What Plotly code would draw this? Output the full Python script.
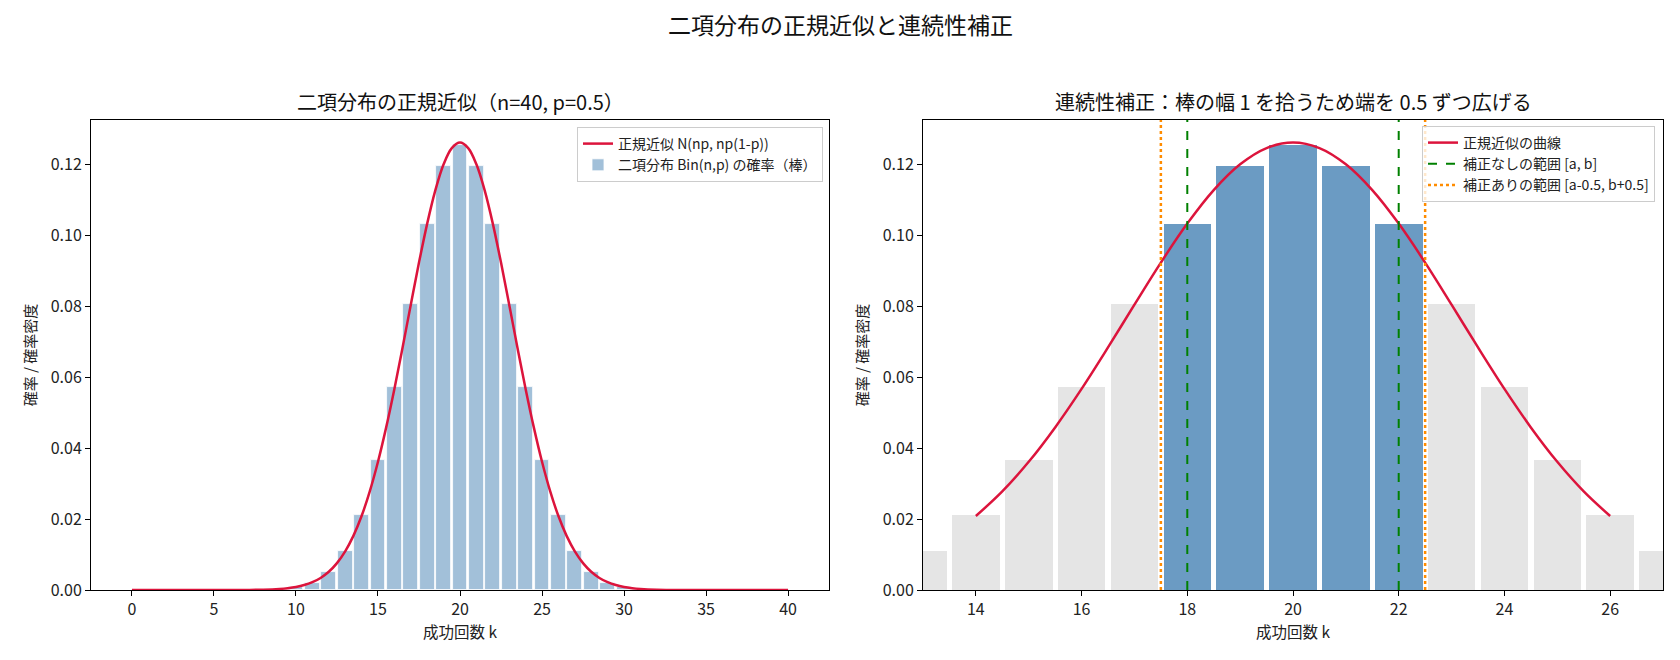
import plotly.graph_objects as go

# ---- data ----
k_values = list(range(0, 41))
pmf_values = [0.0, 0.0, 0.0, 0.0, 0.0, 0.0, 0.0, 0.00002, 0.00007, 0.00025,
              0.00077, 0.0021, 0.0051, 0.0109, 0.0211, 0.0366, 0.0572, 0.0807,
              0.1031, 0.1194, 0.1254, 0.1194, 0.1031, 0.0807, 0.0572, 0.0366,
              0.0211, 0.0109, 0.0051, 0.0021, 0.00077, 0.00025, 0.00007, 0.00002,
              0.0, 0.0, 0.0, 0.0, 0.0, 0.0, 0.0]

curve_x = [0, 2, 4, 6, 7, 8, 9, 9.5, 10, 10.5, 11, 11.5, 12, 12.5, 13, 13.5,
           14, 14.5, 15, 15.5, 16, 16.5, 17, 17.5, 18, 18.5, 19, 19.5, 20,
           20.5, 21, 21.5, 22, 22.5, 23, 23.5, 24, 24.5, 25, 25.5, 26, 26.5,
           27, 27.5, 28, 28.5, 29, 29.5, 30, 30.5, 31, 32, 33, 34, 36, 38, 40]
curve_y = [0.0, 0.0, 0.0, 0.000007, 0.000027, 0.000094, 0.0003, 0.00051,
           0.00085, 0.00139, 0.0022, 0.0034, 0.00514, 0.00758, 0.01089,
           0.01526, 0.02085, 0.0278, 0.03614, 0.04584, 0.05669, 0.06838,
           0.08044, 0.0923, 0.10329, 0.11274, 0.12001, 0.12459, 0.12616,
           0.12459, 0.12001, 0.11274, 0.10329, 0.0923, 0.08044, 0.06838,
           0.05669, 0.04584, 0.03614, 0.0278, 0.02085, 0.01526, 0.01089,
           0.00758, 0.00514, 0.0034, 0.0022, 0.00139, 0.00085, 0.00051,
           0.0003, 0.000094, 0.000027, 0.000007, 0.0, 0.0, 0.0]

range_a, range_b = 18, 22
corr_a, corr_b = 17.5, 22.5
curve_right_min, curve_right_max = 14, 26

left_xticks = [0, 5, 10, 15, 20, 25, 30, 35, 40]
right_xticks = [14, 16, 18, 20, 22, 24, 26]
yticks = [0.0, 0.02, 0.04, 0.06, 0.08, 0.10, 0.12]

Y_TOP = 0.1325
FONT = "Noto Sans CJK JP"
CRIMSON = "#dc143c"
LIGHT_BLUE = "rgba(70,130,180,0.5)"
MID_BLUE = "rgba(70,130,180,0.8)"
GRAY = "rgba(211,211,211,0.6)"

fig = go.Figure()

# ---- left panel ----
fig.add_trace(go.Bar(
    x=k_values, y=pmf_values, width=0.9,
    marker=dict(color=LIGHT_BLUE, line=dict(color="white", width=0.8)),
    name="二項分布 Bin(n,p) の確率（棒）", legend="legend", legendrank=2,
    xaxis="x", yaxis="y"))
fig.add_trace(go.Scatter(
    x=curve_x, y=curve_y, mode="lines", line=dict(color=CRIMSON, width=2.5, shape="spline"),
    name="正規近似 N(np, np(1-p))", legend="legend", legendrank=1,
    xaxis="x", yaxis="y"))

# ---- right panel ----
bar_colors = [MID_BLUE if range_a <= k <= range_b else GRAY for k in k_values]
fig.add_trace(go.Bar(
    x=k_values, y=pmf_values, width=0.9,
    marker=dict(color=bar_colors, line=dict(width=0)),
    showlegend=False, xaxis="x2", yaxis="y2"))
rx = [x for x in curve_x if curve_right_min <= x <= curve_right_max]
ry = [y for x, y in zip(curve_x, curve_y) if curve_right_min <= x <= curve_right_max]
fig.add_trace(go.Scatter(
    x=rx, y=ry, mode="lines", line=dict(color=CRIMSON, width=2.5, shape="spline"),
    name="正規近似の曲線", legend="legend2", legendrank=1,
    xaxis="x2", yaxis="y2"))
for i, v in enumerate([range_a, range_b]):
    fig.add_trace(go.Scatter(
        x=[v, v], y=[0, Y_TOP], mode="lines",
        line=dict(color="green", width=2, dash="dash"),
        name="補正なしの範囲 [a, b]", legend="legend2", legendrank=2,
        legendgroup="nocorr", showlegend=(i == 0), xaxis="x2", yaxis="y2"))
for i, v in enumerate([corr_a, corr_b]):
    fig.add_trace(go.Scatter(
        x=[v, v], y=[0, Y_TOP], mode="lines",
        line=dict(color="#ff8c00", width=2.5, dash="dot"),
        name="補正ありの範囲 [a-0.5, b+0.5]", legend="legend2", legendrank=3,
        legendgroup="corr", showlegend=(i == 0), xaxis="x2", yaxis="y2"))

axis_common = dict(showline=True, linecolor="black", linewidth=1, mirror=True,
                   ticks="outside", ticklen=5, tickcolor="black", showgrid=False,
                   zeroline=False, automargin=False, tickfont=dict(size=16, color="#222"))
y_common = dict(axis_common, range=[0, Y_TOP], tickvals=yticks, tickformat=".2f",
                title=dict(text="確率 / 確率密度", font=dict(size=15, color="#222"), standoff=10))
x_title = dict(text="成功回数 k", font=dict(size=15.5, color="#222"), standoff=4)

fig.update_layout(
    width=1680, height=660, margin=dict(l=0, r=0, t=0, b=0),
    plot_bgcolor="white", paper_bgcolor="white",
    font=dict(family=FONT, color="#222"),
    barmode="overlay", bargap=0,
    xaxis=dict(axis_common, domain=[91/1680, 829/1680], range=[-2.495, 42.495],
               tickvals=left_xticks, title=x_title, anchor="y"),
    yaxis=dict(y_common, domain=[1-590/660, 1-120/660], anchor="x"),
    xaxis2=dict(axis_common, domain=[923/1680, 1663/1680], range=[13, 27],
                tickvals=right_xticks, title=x_title, anchor="y2"),
    yaxis2=dict(y_common, domain=[1-590/660, 1-120/660], anchor="x2"),
    legend=dict(x=823/1680, y=1-127/660, xanchor="right", yanchor="top",
                bgcolor="white", bordercolor="#cccccc", borderwidth=1,
                font=dict(size=14, color="#222")),
    legend2=dict(x=1655/1680, y=1-126/660, xanchor="right", yanchor="top",
                 bgcolor="rgba(255,255,255,0.8)", bordercolor="#cccccc", borderwidth=1,
                 tracegroupgap=0, font=dict(size=14, color="#222")),
    annotations=[
        dict(text="二項分布の正規近似と連続性補正", x=0.5, y=1-24/660, xref="paper", yref="paper",
             showarrow=False, xanchor="center", yanchor="middle", font=dict(size=23, color="#111")),
        dict(text="二項分布の正規近似（n=40, p=0.5）", x=(91+829)/2/1680, y=1-101/660,
             xref="paper", yref="paper", showarrow=False, xanchor="center", yanchor="middle",
             font=dict(size=20, color="#111")),
        dict(text="連続性補正：棒の幅 1 を拾うため端を 0.5 ずつ広げる", x=(923+1663)/2/1680, y=1-101/660,
             xref="paper", yref="paper", showarrow=False, xanchor="center", yanchor="middle",
             font=dict(size=20, color="#111")),
    ],
)

fig.write_html("out.html")
